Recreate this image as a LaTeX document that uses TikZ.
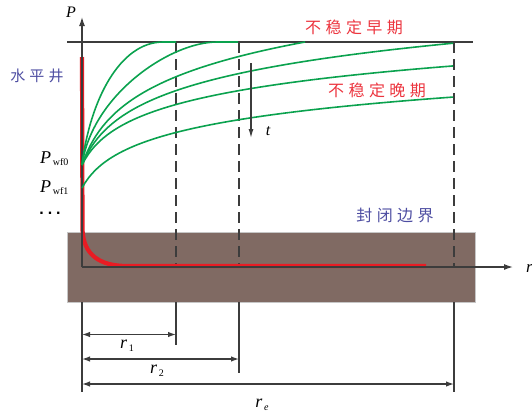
\documentclass[tikz,border=0pt]{standalone}
\usepackage{fontspec}
\setmainfont{Liberation Serif}
\setsansfont{Liberation Sans}
\newfontfamily\cjk[LetterSpace=28]{Noto Sans CJK SC}
\usetikzlibrary{arrows.meta}

\definecolor{linegray}{RGB}{60,60,60}
\definecolor{curvegreen}{RGB}{10,162,78}
\definecolor{wellred}{RGB}{232,28,36}
\definecolor{rockbrown}{RGB}{128,106,99}
\definecolor{textblue}{RGB}{78,78,162}
\definecolor{textred}{RGB}{236,52,62}

\begin{document}
\begin{tikzpicture}[
    x=1pt, y=-1pt,
    axis/.style={draw=linegray, line width=1.3pt},
    arrowaxis/.style={axis, -{Latex[length=9pt, width=6pt]}},
    boundary/.style={draw=linegray, line width=1.4pt, dash pattern=on 11pt off 6pt},
    tick/.style={draw=linegray, line width=1.4pt},
    dim/.style={draw=linegray, line width=1.3pt, {Latex[length=8pt, width=5.5pt]}-{Latex[length=8pt, width=5.5pt]}},
    pcurve/.style={draw=curvegreen, line width=1.6pt},
    well/.style={draw=wellred, line width=4.2pt},
    cjklabel/.style={font=\cjk\fontsize{16}{16}\selectfont, inner sep=0pt},
    sym/.style={font=\fontsize{17}{17}\selectfont\itshape, inner sep=0pt}
]
\useasboundingbox (0,0) rectangle (532,416);

% Reference points
\coordinate (O) at (82,267);
\coordinate (Ptop) at (82,17);
\coordinate (Rend) at (513,267);
\coordinate (top0) at (67,42);
\coordinate (top1) at (473,42);
\coordinate (b1) at (176,42);
\coordinate (b2) at (239,42);
\coordinate (be) at (454,42);
\coordinate (t0) at (82,392);
\coordinate (t1) at (176,345);
\coordinate (t2) at (239,373);
\coordinate (te) at (454,392);

% Closed boundary layer
\node[draw=gray!45, fill=rockbrown, minimum width=408pt, minimum height=70pt, inner sep=0pt, anchor=north west] (rock) at (67,232) {};

% Pressure fronts
\draw[boundary] (b1) -- (b1 |- O);
\draw[boundary] (b2) -- (b2 |- O);
\draw[boundary] (be) -- (be |- O);
\draw[tick] (t1 |- rock.south) -- (t1);
\draw[tick] (t2 |- rock.south) -- (t2);
\draw[tick] (te |- rock.south) -- (te);
\draw[tick] (t0 |- rock.south) -- (t0);

% Horizontal well
\draw[well] (82,57) -- (82.5,230) .. controls (83.5,255) and (100,266) .. (127,266) -- (426,266);

% Axes
\draw[arrowaxis] (O) -- (Ptop);
\draw[arrowaxis] (O) -- (Rend);
\draw[axis] (top0) -- (top1);

% Pressure curves
\draw[pcurve] (82,165) .. controls (90,100) and (120,42) .. (163,42) -- (176,42);
\draw[pcurve] (82,165) .. controls (92,95) and (170,42) .. (217,42) -- (238,42);
\draw[pcurve, domain=82:305, samples=80] plot (\x, {165-44.5*ln(1+(\x-82)/15)});
\draw[pcurve, domain=82:453, samples=120] plot (\x, {165-37.5*ln(1+(\x-82)/15)});
\draw[pcurve, domain=82:453, samples=120] plot (\x, {165-30.5*ln(1+(\x-82)/15)});
\draw[pcurve, domain=82:453, samples=120] plot (\x, {188-28*ln(1+(\x-82)/15)});

% Time arrow
\coordinate (tstart) at (251,63);
\coordinate (tend) at (251,138);
\draw[draw=linegray, line width=1.2pt, -{Latex[length=9pt, width=5pt]}] (tstart) -- (tend);
\node[sym, font=\fontsize{16}{16}\selectfont\itshape] (tlab) at (268,131) {t};

% Radii
\coordinate (d1) at (176,334.5);
\coordinate (d2) at (239,359);
\coordinate (de) at (454,384);
\draw[dim] (d1 -| O) -- (d1);
\draw[dim] (d2 -| O) -- (d2);
\draw[dim] (de -| O) -- (de);
\node[sym, font=\fontsize{18}{18}\selectfont\itshape] (r1) at (127,346) {r\raisebox{-3pt}{\upshape\fontsize{10}{10}\selectfont\,1}};
\node[sym, font=\fontsize{18}{18}\selectfont\itshape] (r2) at (157,371) {r\raisebox{-3pt}{\upshape\fontsize{10}{10}\selectfont\,2}};
\node[sym, font=\fontsize{18}{18}\selectfont\itshape] (re) at (262,405) {r\raisebox{-3pt}{\fontsize{10}{10}\selectfont\,e}};

% Axis labels
\node[sym, font=\fontsize{16}{16}\selectfont\itshape] (plab) at (71,12) {P};
\node[sym, anchor=west] (rlab) at (526,268) {r};
\node[sym, anchor=base west, font=\fontsize{18}{18}\selectfont\itshape] (pwf0) at (40,163) {P\raisebox{-2pt}{\upshape\fontsize{10}{10}\selectfont\,wf0}};
\node[sym, anchor=base west, font=\fontsize{18}{18}\selectfont\itshape] (pwf1) at (40,192) {P\raisebox{-2pt}{\upshape\fontsize{10}{10}\selectfont\,wf1}};
\node[font=\sffamily\bfseries\fontsize{16}{16}\selectfont, inner sep=0pt] (dots) at (50,213) {.\hspace{4pt}.\hspace{4pt}.};

% Region labels
\node[cjklabel, text=textred] (early) at (354,27) {不稳定早期};
\node[cjklabel, text=textred] (late) at (377,90) {不稳定晚期};
\node[cjklabel, text=textblue, font=\cjk\fontsize{15}{15}\selectfont] (well) at (37,76) {水平井};
\node[cjklabel, text=textblue] (seal) at (395,215) {封闭边界};

\end{tikzpicture}
\end{document}
